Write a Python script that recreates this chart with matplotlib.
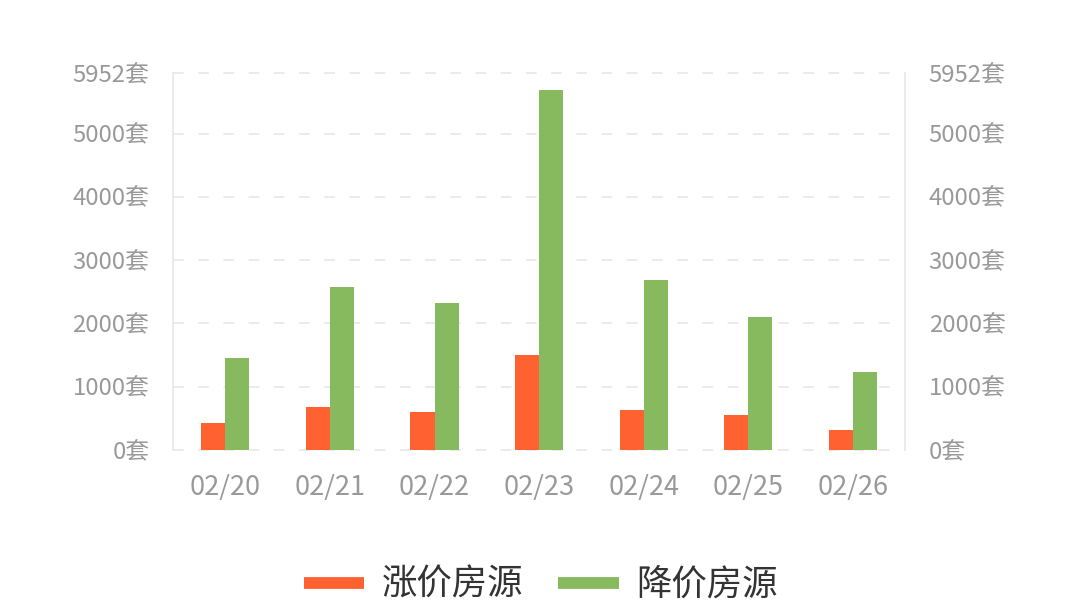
import numpy as np
import matplotlib
matplotlib.use('Agg')
import matplotlib.pyplot as plt
from matplotlib.lines import Line2D

plt.rcParams['font.family'] = ['Noto Sans CJK SC', 'DejaVu Sans']

# 数据
dates = ['02/20', '02/21', '02/22', '02/23', '02/24', '02/25', '02/26']
rise = [431, 674, 595, 1496, 632, 553, 316]      # 涨价房源
fall = [1458, 2570, 2327, 5687, 2686, 2096, 1227]  # 降价房源
y_ticks = [0, 1000, 2000, 3000, 4000, 5000, 5952]
y_max = 5952

c_rise = '#FF6230'
c_fall = '#87BA5F'

fig = plt.figure(figsize=(10.75, 6.1), dpi=100)
ax = fig.add_axes([0.161, 0.2623, 0.681, 0.6175])

x = np.arange(len(dates))
w = 0.23
ax.bar(x - w / 2, rise, width=w, color=c_rise, zorder=3)
ax.bar(x + w / 2, fall, width=w, color=c_fall, zorder=3)

ax.set_xlim(-0.5, len(dates) - 0.5)
ax.set_ylim(0, y_max)
ax.set_yticks(y_ticks)
ax.set_yticklabels([f'{v}套' for v in y_ticks])
ax.set_xticks(x)
ax.set_xticklabels(dates)

# 网格虚线
for v in y_ticks:
    ax.axhline(v, color='#e6e6e6', linewidth=1.1, linestyle=(0, (7, 9.5)), zorder=1,
               clip_on=False)

for s in ['top', 'bottom']:
    ax.spines[s].set_visible(False)
for s in ['left', 'right']:
    ax.spines[s].set_color('#e8e8e8')
    ax.spines[s].set_linewidth(1.2)

ax.tick_params(axis='y', length=0, pad=17, labelsize=17.2, labelcolor='#999999',
               labelleft=True, labelright=True)
ax.tick_params(axis='x', length=0, pad=17, labelsize=19.5, labelcolor='#999999')

# 图例
handles = [Line2D([0], [0], color=c_rise, linewidth=8.5, solid_capstyle='butt'),
           Line2D([0], [0], color=c_fall, linewidth=8.5, solid_capstyle='butt')]
fig.legend(handles, ['涨价房源', '降价房源'], loc='center', bbox_to_anchor=(0.503, 0.041),
           ncol=2, frameon=False, fontsize=25.5, labelcolor='#333333',
           handlelength=1.7, handletextpad=0.5, columnspacing=1.0)

fig.savefig('out.png', dpi=100)
